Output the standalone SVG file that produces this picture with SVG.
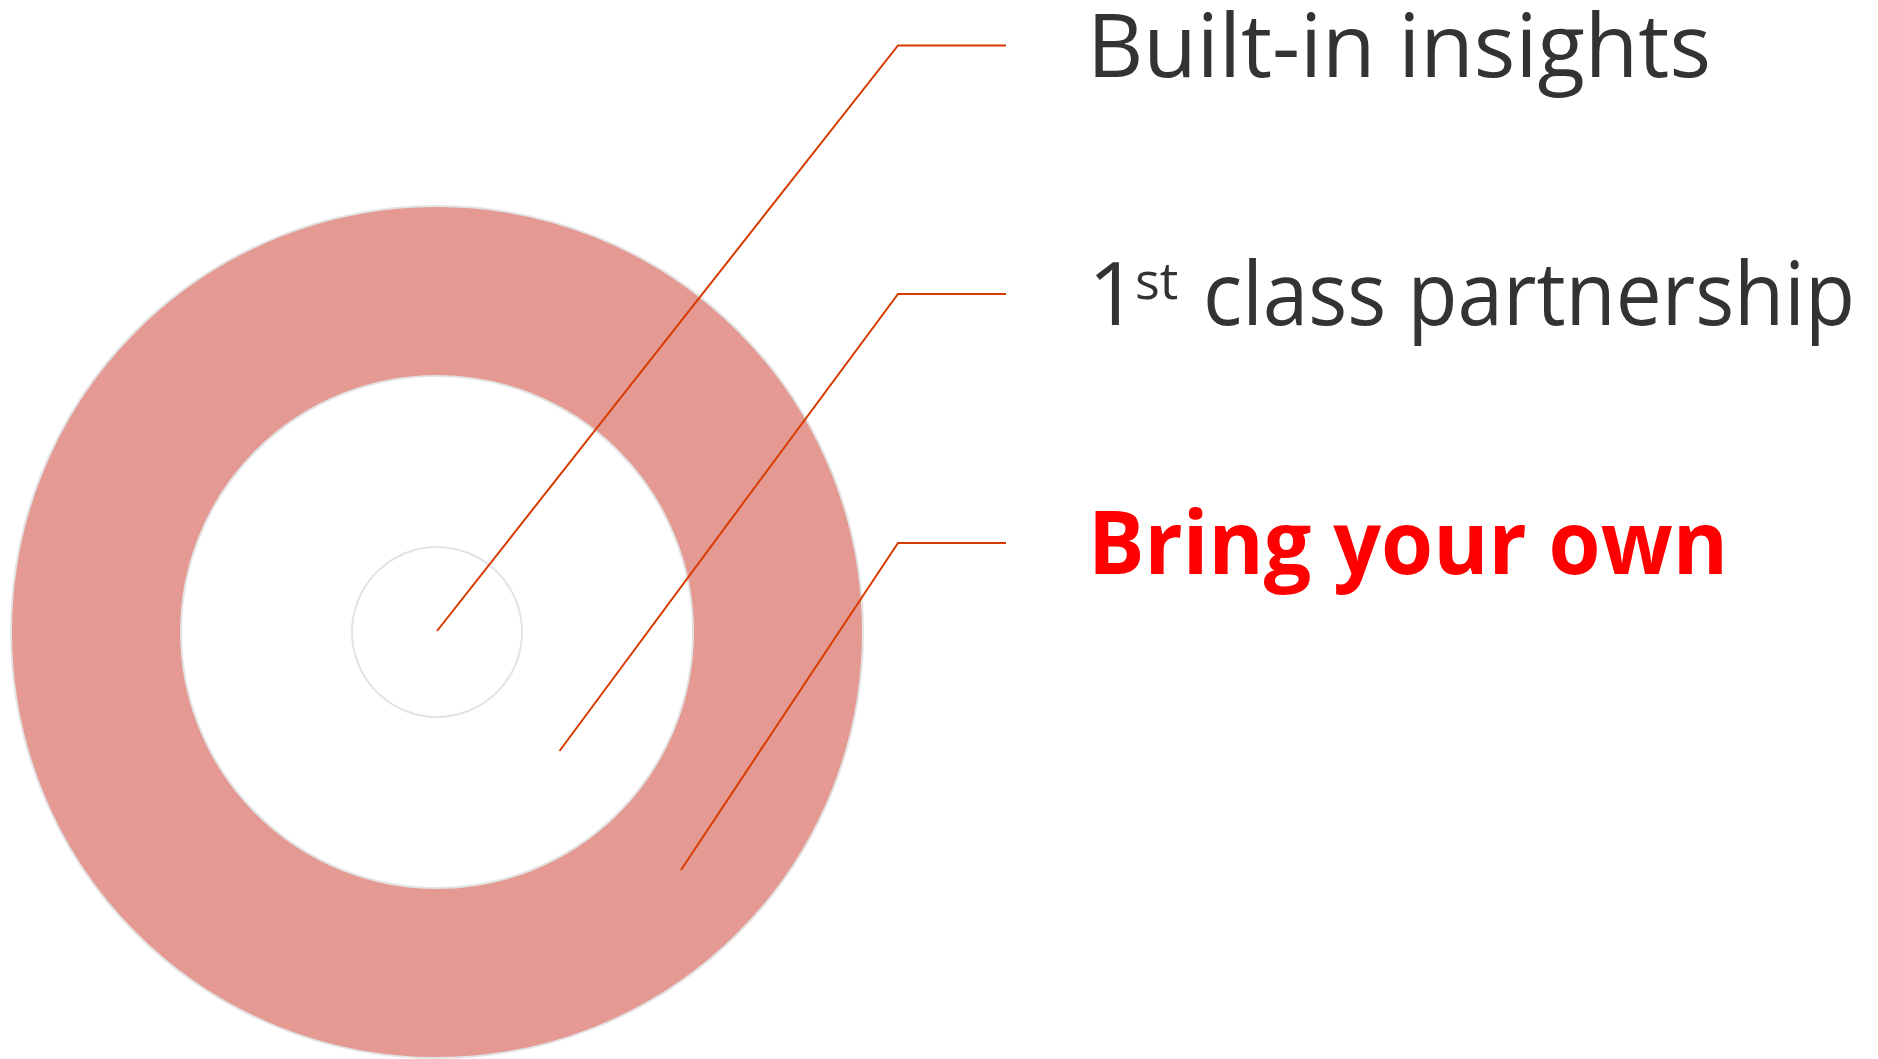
<svg xmlns="http://www.w3.org/2000/svg" width="1878" height="1059" viewBox="0 0 1878 1059">
  <style>
    .ring { stroke: #E3E3E3; stroke-width: 2; }
    .conn { fill: none; stroke: #D83B01; stroke-width: 2; stroke-linejoin: miter; }
    .lbl { font-family: "Segoe UI", "Open Sans", "Noto Sans", sans-serif; font-size: 88px; fill: #333333; }
    .sup { font-family: "Segoe UI", "Open Sans", "Noto Sans", sans-serif; font-size: 52px; fill: #333333; }
    .lbl-hi { font-family: "Segoe UI", "Open Sans", "Noto Sans", sans-serif; font-size: 88px; font-weight: 700; fill: #FF0000; }
  </style>
  <rect width="1878" height="1059" fill="#FFFFFF"/>
  <g id="outer-ring">
    <circle class="ring" cx="437" cy="632" r="426" fill="#E49A93"/>
  </g>
  <g id="middle-ring">
    <circle class="ring" cx="437" cy="632" r="256" fill="#FFFFFF"/>
  </g>
  <g id="inner-ring">
    <circle class="ring" cx="437" cy="632" r="85" fill="#FFFFFF"/>
  </g>
  <g id="connectors">
    <polyline class="conn" points="437,631 898,45.5 1006,45.5"/>
    <polyline class="conn" points="559.5,751 898,294 1006,294"/>
    <polyline class="conn" points="681,870 898,543 1006,543"/>
  </g>
  <g id="label-builtin">
    <text class="lbl" x="1087" y="77" textLength="624" lengthAdjust="spacingAndGlyphs">Built-in insights</text>
  </g>
  <g id="label-partnership">
    <text class="lbl" x="1088" y="325">1</text>
    <text class="sup" x="1135" y="299">st</text>
    <text class="lbl" x="1203" y="325" textLength="652" lengthAdjust="spacingAndGlyphs">class partnership</text>
  </g>
  <g id="label-byo">
    <text class="lbl-hi" x="1088" y="574" textLength="640" lengthAdjust="spacingAndGlyphs">Bring your own</text>
  </g>
</svg>
